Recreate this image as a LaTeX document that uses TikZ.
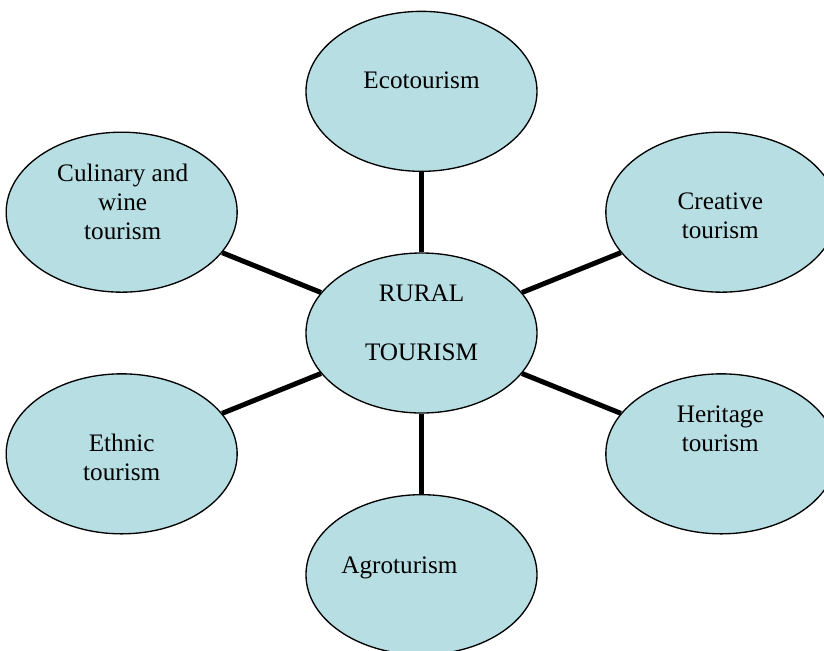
\documentclass[tikz,border=0pt]{standalone}
\usepackage{fontspec}
\setmainfont{Liberation Serif}
\usetikzlibrary{shapes.geometric}
\usetikzlibrary{backgrounds}
\definecolor{bubblefill}{RGB}{183,222,227}
\tikzset{bubble/.style={ellipse,draw=black,line width=1pt,fill=bubblefill,
                        minimum width=173.25pt,minimum height=120pt,inner sep=0pt}}
\tikzset{bubbletext/.style={align=center,inner sep=0pt,
                            font=\fontsize{18.9}{21.75}\selectfont}}

\begin{document}
\begin{tikzpicture}[x=0.75pt,y=-0.75pt]
  \tikzstyle{link}=[line width=3.75pt,black]
  % page size of the original figure
  \useasboundingbox (0,0) rectangle (824,650);

  % The bubbles sit on a grid, so a matrix places them:
  \matrix at (421.5,333) [row sep=-30.375pt,column sep=50.625pt] {
    % First line: top bubble
    &
    \node (eco) [bubble] {}; &
    \\
    % Second line: upper left and right
    \node (culinary) [bubble] {}; &
    &
    \node (creative) [bubble] {};
    \\
    % Third line: the hub
    &
    \node (rural) [bubble] {}; &
    \\
    % Fourth line: lower left and right
    \node (ethnic) [bubble] {}; &
    &
    \node (heritage) [bubble] {};
    \\
    % Fifth line: bottom bubble
    &
    \node (agro) [bubble] {}; &
    \\
  };

  % Spokes from the hub, kept behind the bubbles
  \begin{scope}[on background layer]
    \path[link]
      (rural) edge (eco)
      (rural) edge (culinary)
      (rural) edge (creative)
      (rural) edge (ethnic)
      (rural) edge (heritage)
      (rural) edge (agro);
  \end{scope}

  % Texts, placed as in the original boxes
  \node (eco text) [bubbletext,anchor=base] at ([yshift=2.5pt]eco.center) {Ecotourism};
  \node (culinary text) [bubbletext] at ([xshift=0.75pt,yshift=7.5pt]culinary.center) {Culinary and\\wine\\tourism};
  \node (creative text) [bubbletext] at ([xshift=-0.75pt,yshift=-3pt]creative.center) {Creative\\tourism};
  \node (rural text) [bubbletext,font=\fontsize{18.9}{44.25}\selectfont] at ([yshift=8pt]rural.center) {RURAL\\TOURISM};
  \node (ethnic text) [bubbletext] at ([yshift=-2.5pt]ethnic.center) {Ethnic\\tourism};
  \node (heritage text) [bubbletext] at ([xshift=-0.75pt,yshift=18.75pt]heritage.center) {Heritage\\tourism};
  \node (agro text) [bubbletext,anchor=base] at ([xshift=-16.5pt,yshift=1pt]agro.center) {Agroturism};

\end{tikzpicture}
\end{document}
